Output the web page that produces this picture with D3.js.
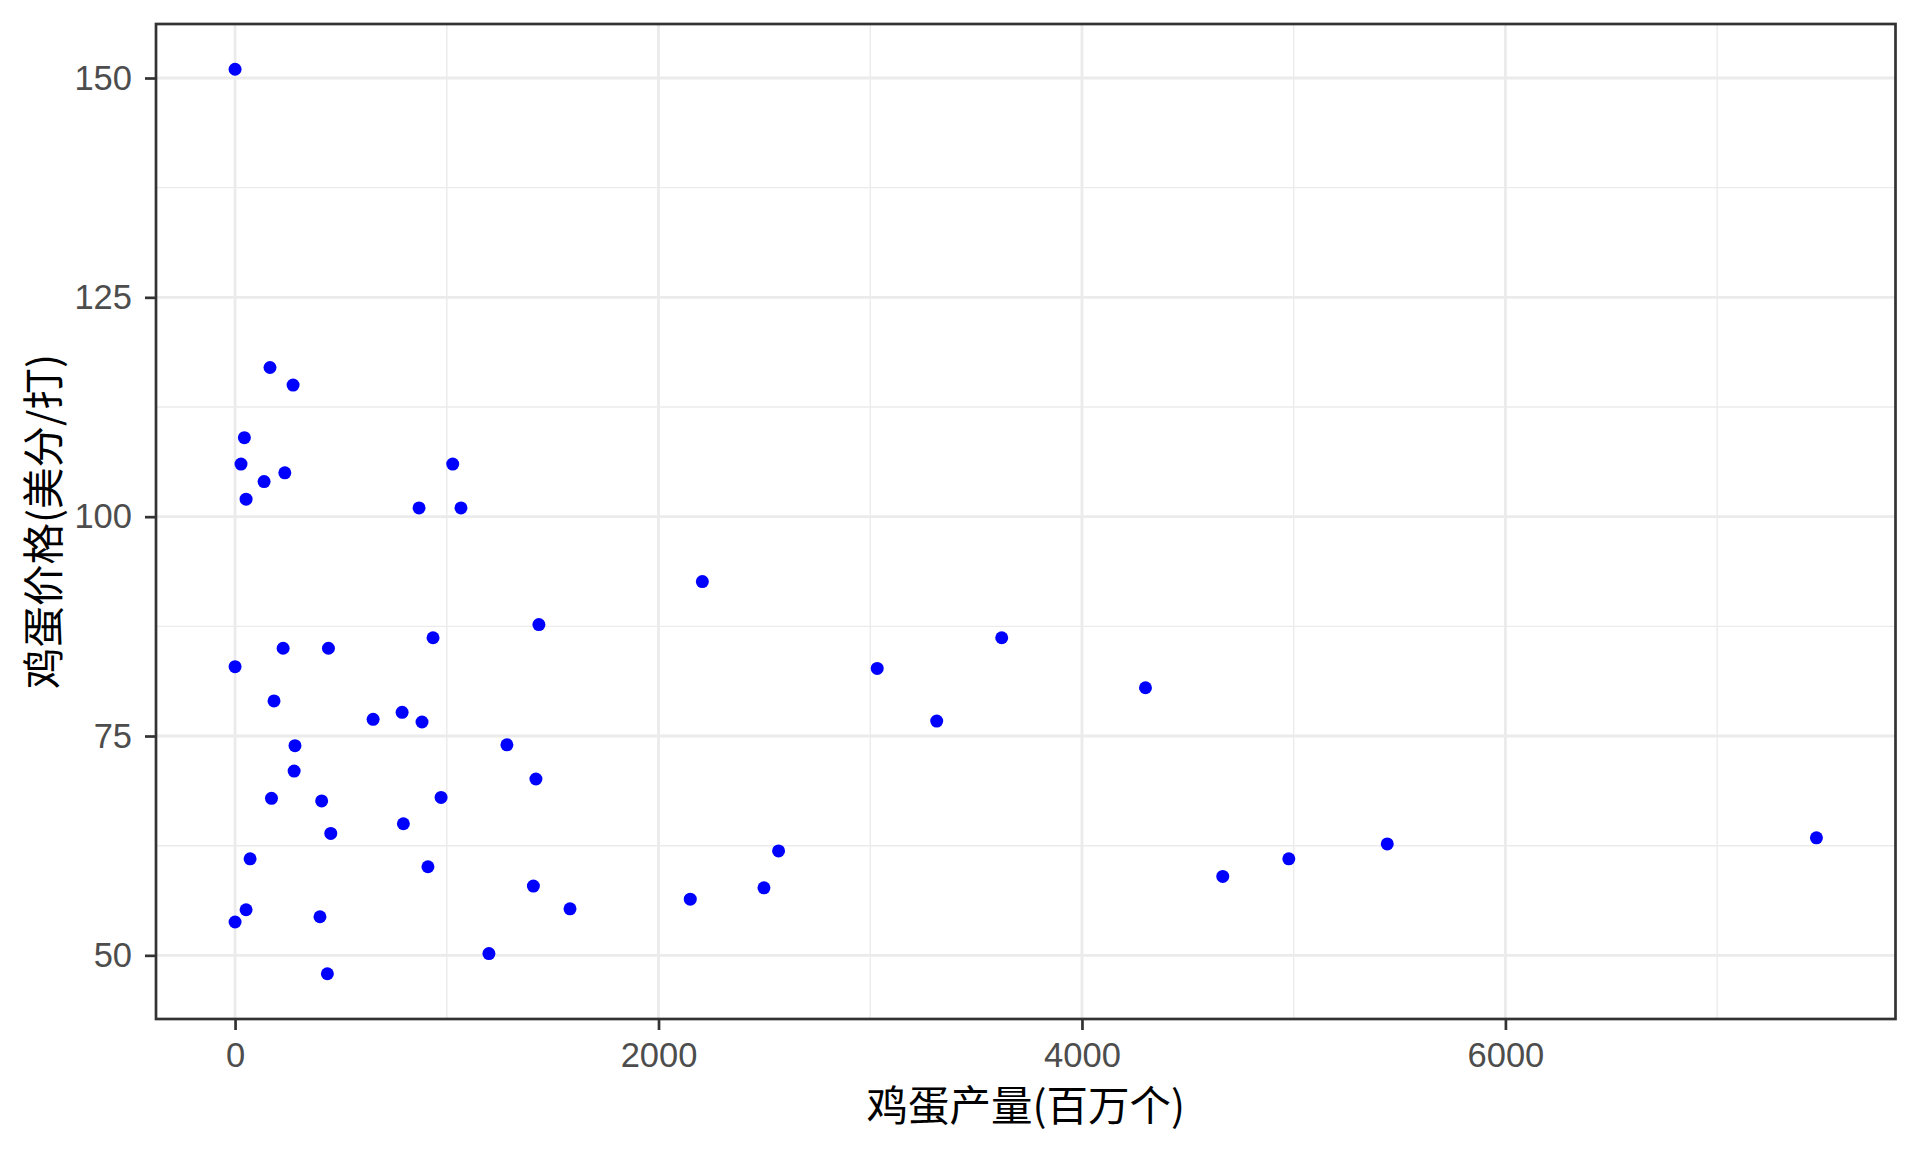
<!DOCTYPE html>
<html>
<head>
<meta charset="utf-8">
<script src="https://cdn.jsdelivr.net/npm/d3@7"></script>
<style>
  html, body { margin: 0; padding: 0; background: #ffffff; }
  svg { display: block; }
</style>
</head>
<body>
<svg id="chart" width="1920" height="1152"></svg>
<script>
// Egg production (million eggs) and egg price (cents per dozen)
const production = [
  0, 165, 274, 44, 28, 235, 137, 52, 1028, 869,
  1067, 1435, 935, 227, 441, 0, 184, 652, 789, 883,
  283, 1284, 279, 1421, 172, 409, 973, 795, 452, 71,
  911, 1409, 1582, 52, 0, 401, 1199, 436, 2207, 3033,
  3621, 3314, 4300, 2150, 2498, 2567, 4665, 4977, 5442, 7469
];
const price = [
  151, 117, 115, 109, 106, 105, 104, 102, 106, 101,
  101, 87.7, 86.2, 85, 85, 82.9, 79, 76.9, 77.7, 76.6,
  73.9, 74, 71, 70.1, 67.9, 67.6, 68, 65, 63.9, 61,
  60.1, 57.9, 55.3, 55.2, 53.8, 54.4, 50.2, 47.9, 92.6, 82.7,
  86.2, 76.7, 80.5, 56.4, 57.7, 61.9, 59, 61, 62.7, 63.4
];
const xTicks = [0, 2000, 4000, 6000];
const xMinor = [1000, 3000, 5000, 7000];
const yTicks = [50, 75, 100, 125, 150];
const yMinor = [62.5, 87.5, 112.5, 137.5];
const xTitle = "鸡蛋产量(百万个)";
const yTitle = "鸡蛋价格(美分/打)";

const data = production.map((p, i) => ({ x: p, y: price[i] }));

const svg = d3.select("#chart");
const panel = { left: 156, right: 1895.5, top: 24, bottom: 1019 };

function expand(ext) {
  const r = ext[1] - ext[0];
  return [ext[0] - 0.05 * r, ext[1] + 0.05 * r];
}
const x = d3.scaleLinear().domain(expand(d3.extent(production))).range([panel.left, panel.right]);
const y = d3.scaleLinear().domain(expand(d3.extent(price))).range([panel.bottom, panel.top]);

svg.append("rect").attr("x", 0).attr("y", 0).attr("width", 1920).attr("height", 1152).attr("fill", "#fff");

const grid = svg.append("g");
// minor grid
grid.selectAll(".xm").data(xMinor).join("line")
  .attr("x1", d => x(d)).attr("x2", d => x(d))
  .attr("y1", panel.top).attr("y2", panel.bottom)
  .attr("stroke", "#EBEBEB").attr("stroke-width", 1.4);
grid.selectAll(".ym").data(yMinor).join("line")
  .attr("y1", d => y(d)).attr("y2", d => y(d))
  .attr("x1", panel.left).attr("x2", panel.right)
  .attr("stroke", "#EBEBEB").attr("stroke-width", 1.4);
// major grid
grid.selectAll(".xM").data(xTicks).join("line")
  .attr("x1", d => x(d)).attr("x2", d => x(d))
  .attr("y1", panel.top).attr("y2", panel.bottom)
  .attr("stroke", "#EBEBEB").attr("stroke-width", 2.8);
grid.selectAll(".yM").data(yTicks).join("line")
  .attr("y1", d => y(d)).attr("y2", d => y(d))
  .attr("x1", panel.left).attr("x2", panel.right)
  .attr("stroke", "#EBEBEB").attr("stroke-width", 2.8);

// points
svg.append("g").selectAll("circle").data(data).join("circle")
  .attr("cx", d => x(d.x)).attr("cy", d => y(d.y))
  .attr("r", 6.5).attr("fill", "#0000FF");

// panel border
svg.append("rect")
  .attr("x", panel.left).attr("y", panel.top)
  .attr("width", panel.right - panel.left).attr("height", panel.bottom - panel.top)
  .attr("fill", "none").attr("stroke", "#333333").attr("stroke-width", 2.7);

// x axis
const xAxis = d3.axisBottom(x).tickValues(xTicks).tickSize(11).tickPadding(13).tickFormat(d3.format("d"));
const gx = svg.append("g").attr("transform", `translate(0,${panel.bottom})`).call(xAxis);
gx.select(".domain").remove();
gx.selectAll(".tick line").attr("stroke", "#333333").attr("stroke-width", 2.7);
gx.selectAll(".tick text").attr("fill", "#4D4D4D")
  .attr("font-family", "'Liberation Sans', Arial, sans-serif").attr("font-size", 34.5);

// y axis
const yAxis = d3.axisLeft(y).tickValues(yTicks).tickSize(11).tickPadding(13).tickFormat(d3.format("d"));
const gy = svg.append("g").attr("transform", `translate(${panel.left},0)`).call(yAxis);
gy.select(".domain").remove();
gy.selectAll(".tick line").attr("stroke", "#333333").attr("stroke-width", 2.7);
gy.selectAll(".tick text").attr("fill", "#4D4D4D")
  .attr("font-family", "'Liberation Sans', Arial, sans-serif").attr("font-size", 34.5);

// titles
svg.append("text")
  .attr("x", (panel.left + panel.right) / 2).attr("y", 1103)
  .attr("text-anchor", "middle").attr("dominant-baseline", "central")
  .attr("font-family", "'Noto Sans CJK SC', sans-serif").attr("font-size", 41.5)
  .attr("fill", "#000").text(xTitle);

svg.append("text")
  .attr("transform", `translate(41,${(panel.top + panel.bottom) / 2}) rotate(-90)`)
  .attr("text-anchor", "middle").attr("dominant-baseline", "central")
  .attr("font-family", "'Noto Sans CJK SC', sans-serif").attr("font-size", 41.5)
  .attr("fill", "#000").text(yTitle);
</script>
</body>
</html>
